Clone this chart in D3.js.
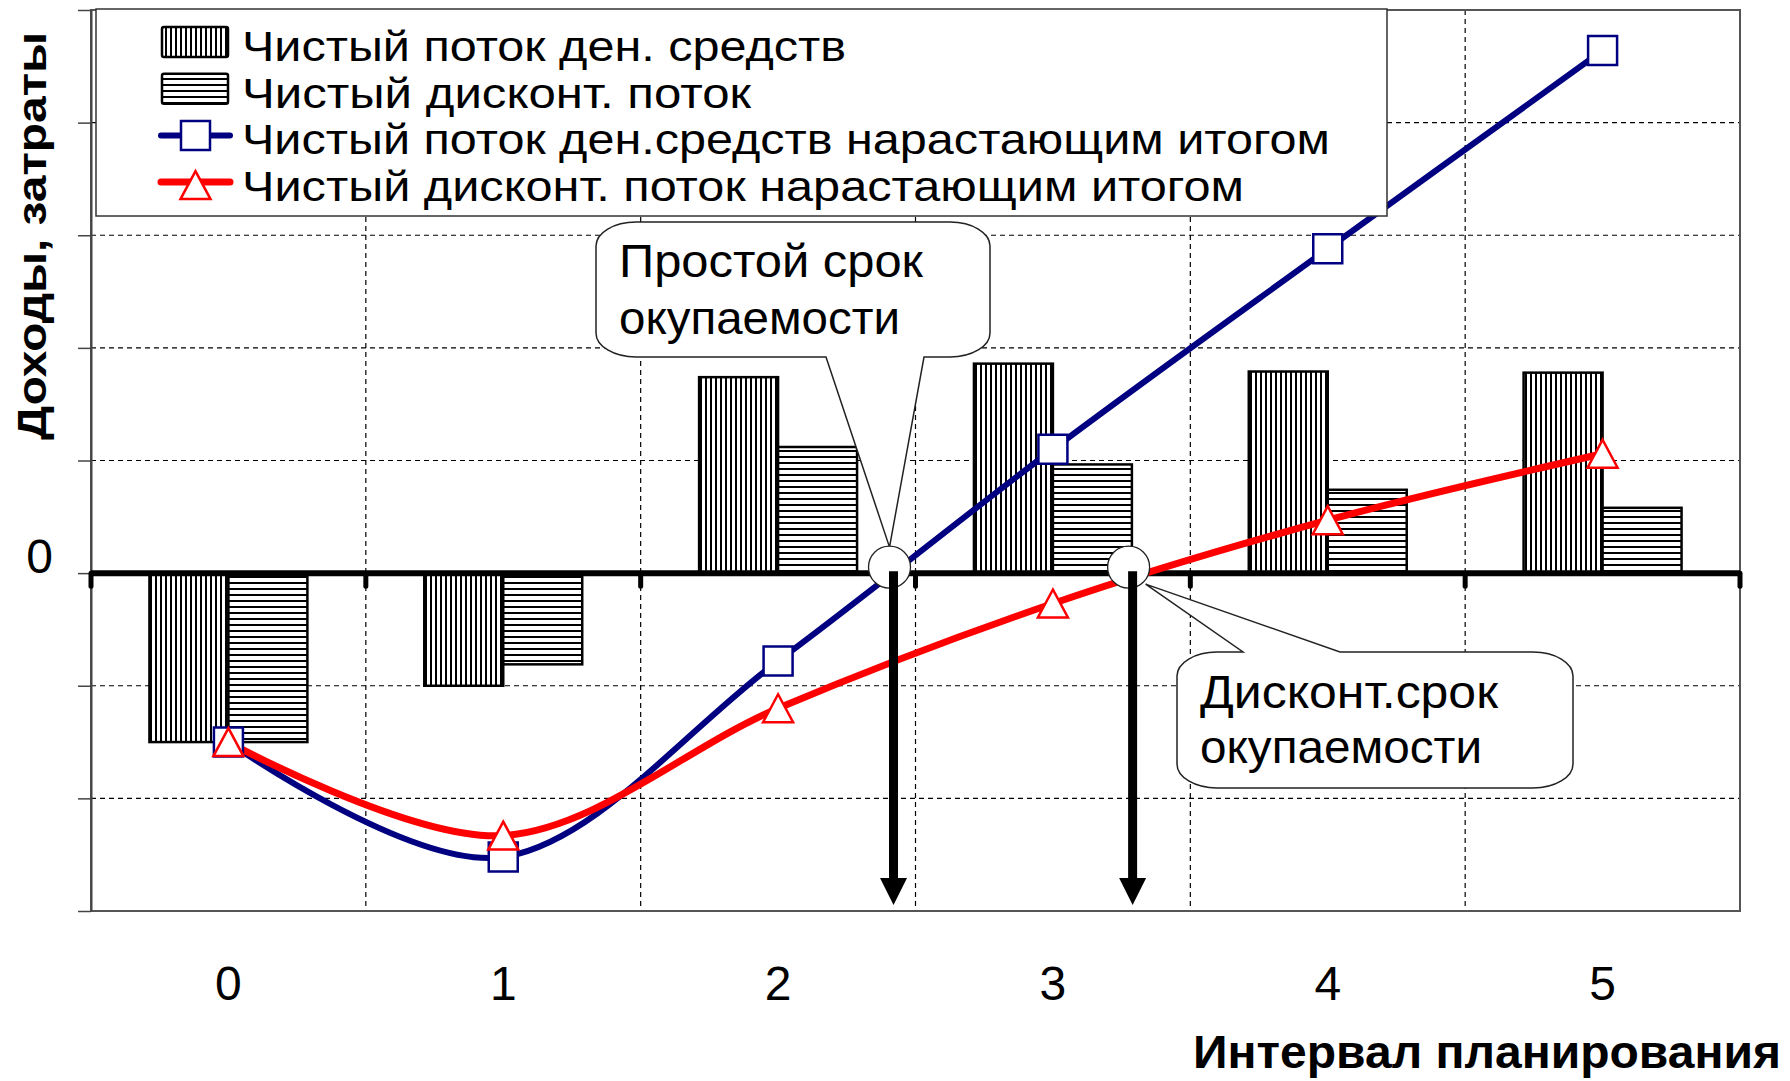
<!DOCTYPE html>
<html>
<head>
<meta charset="utf-8">
<script src="https://cdn.jsdelivr.net/npm/d3@7"></script>
<style>
  body { margin: 0; background: #fff; }
  svg { display: block; }
  text { font-family: "Liberation Sans", Arial, sans-serif; fill: #000; }
</style>
</head>
<body>
<svg id="chart" width="1790" height="1081"></svg>
<script>
// ---- data ----
const periods = ["0", "1", "2", "3", "4", "5"];
const netCashFlow = [-1.5, -1.0, 1.74, 1.86, 1.79, 1.78];
const netDiscFlow = [-1.5, -0.81, 1.12, 0.965, 0.74, 0.58];
const cumCashFlow = [-1.5, -2.52, -0.78, 1.1, 2.88, 4.64];
const cumDiscFlow = [-1.5, -2.33, -1.2, -0.27, 0.47, 1.06];
const yGridValues = [-3, -2, -1, 0, 1, 2, 3, 4, 5];
const paybackSimple = 2.42;      // periods
const paybackDiscounted = 3.29;  // periods
const legendLabels = [
  "Чистый поток ден. средств",
  "Чистый дисконт. поток",
  "Чистый поток ден.средств нарастающим итогом",
  "Чистый дисконт. поток нарастающим итогом"
];
const xTitle = "Интервал планирования";
const yTitle = "Доходы, затраты";
const calloutSimple = ["Простой срок", "окупаемости"];
const calloutDisc = ["Дисконт.срок", "окупаемости"];

// ---- layout ----
const plot = { left: 91, right: 1740, top: 10, bottom: 911 };
const FONT = '"Liberation Sans", Arial, sans-serif';
const BLUE = "#000080", RED = "#ff0000";

const svg = d3.select("#chart");

const xBand = d3.scaleBand().domain(periods).range([plot.left, plot.right]).padding(0);
const xPos = d3.scaleLinear().domain([-0.5, periods.length - 0.5]).range([plot.left, plot.right]);
const y = d3.scaleLinear().domain([-3, 5]).range([plot.bottom, plot.top]);
const xInner = d3.scaleBand().domain(["cash", "disc"]).range([0, xBand.bandwidth()])
  .paddingInner(0).paddingOuter(0.74);

// ---- hatch patterns ----
const defs = svg.append("defs");
const pv = defs.append("pattern").attr("id", "hatchV").attr("patternUnits", "userSpaceOnUse")
  .attr("width", 5).attr("height", 10);
pv.append("rect").attr("width", 5).attr("height", 10).attr("fill", "#fff");
pv.append("rect").attr("x", 0).attr("width", 2).attr("height", 10).attr("fill", "#000")
  .attr("shape-rendering", "crispEdges");
const ph = defs.append("pattern").attr("id", "hatchH").attr("patternUnits", "userSpaceOnUse")
  .attr("width", 10).attr("height", 6);
ph.append("rect").attr("width", 10).attr("height", 6).attr("fill", "#fff");
ph.append("rect").attr("y", 0).attr("width", 10).attr("height", 1.6).attr("fill", "#000")
  .attr("shape-rendering", "crispEdges");

// ---- plot background + grid ----
svg.append("rect").attr("x", plot.left).attr("y", plot.top)
  .attr("width", plot.right - plot.left).attr("height", plot.bottom - plot.top).attr("fill", "#fff");

const grid = svg.append("g").attr("stroke", "#000").attr("stroke-width", 1.2)
  .attr("stroke-dasharray", "5,4");
grid.selectAll("line.h").data(yGridValues.filter(v => v !== 0 && v > y.domain()[0] && v < y.domain()[1]))
  .join("line").attr("class", "h")
  .attr("x1", plot.left).attr("x2", plot.right).attr("y1", d => y(d)).attr("y2", d => y(d));
grid.selectAll("line.v").data(periods.slice(1))
  .join("line").attr("class", "v")
  .attr("x1", d => xBand(d)).attr("x2", d => xBand(d)).attr("y1", plot.top).attr("y2", plot.bottom);

// ---- bars ----
const barData = periods.flatMap((p, i) => [
  { p, key: "cash", v: netCashFlow[i] },
  { p, key: "disc", v: netDiscFlow[i] }
]);
svg.append("g").selectAll("rect").data(barData).join("rect")
  .attr("x", d => xBand(d.p) + xInner(d.key))
  .attr("width", xInner.bandwidth())
  .attr("y", d => y(Math.max(0, d.v)))
  .attr("height", d => Math.abs(y(d.v) - y(0)))
  .attr("fill", d => d.key === "cash" ? "url(#hatchV)" : "url(#hatchH)")
  .attr("stroke", "#000").attr("stroke-width", 2.5);

// ---- plot frame ----
svg.append("rect").attr("x", plot.left).attr("y", plot.top)
  .attr("width", plot.right - plot.left).attr("height", plot.bottom - plot.top)
  .attr("fill", "none").attr("stroke", "#555").attr("stroke-width", 2);

// ---- axes ----
const yAxis = svg.append("g").attr("transform", `translate(${plot.left},0)`)
  .call(d3.axisLeft(y).tickValues(yGridValues).tickSize(13).tickSizeOuter(0).tickPadding(25)
    .tickFormat(d => d === 0 ? "0" : ""));
yAxis.select(".domain").attr("stroke", "#444").attr("stroke-width", 2);
yAxis.selectAll(".tick line").attr("stroke", "#444").attr("stroke-width", 1.5);
yAxis.selectAll("text").attr("font-family", FONT).attr("font-size", 48)
  .attr("dy", 0).attr("y", -1).attr("fill", "#000");

const xAxis = svg.append("g").attr("transform", `translate(0,${plot.bottom})`)
  .call(d3.axisBottom(xBand).tickSize(0).tickPadding(55));
xAxis.select(".domain").remove();
xAxis.selectAll("text").attr("font-family", FONT).attr("font-size", 48).attr("fill", "#000");

// zero line with boundary ticks
svg.append("line").attr("x1", plot.left).attr("x2", plot.right)
  .attr("y1", y(0)).attr("y2", y(0)).attr("stroke", "#000").attr("stroke-width", 6);
svg.append("g").selectAll("line").data(d3.range(periods.length + 1)).join("line")
  .attr("x1", i => xPos(i - 0.5)).attr("x2", i => xPos(i - 0.5))
  .attr("y1", y(0)).attr("y2", y(0) + 13)
  .attr("stroke", "#000").attr("stroke-width", 5).attr("stroke-linecap", "round");

// ---- cumulative lines ----
const lineGen = d3.line().x((d, i) => xPos(i)).y(d => y(d)).curve(d3.curveCardinal.tension(0));
svg.append("path").datum(cumCashFlow).attr("d", lineGen)
  .attr("fill", "none").attr("stroke", BLUE).attr("stroke-width", 6).attr("stroke-linejoin", "round");
svg.append("path").datum(cumDiscFlow).attr("d", lineGen)
  .attr("fill", "none").attr("stroke", RED).attr("stroke-width", 7).attr("stroke-linejoin", "round");

const squarePath = "M-14.5,-14.5H14.5V14.5H-14.5Z";
const trianglePath = "M0,-14L15,14H-15Z";
svg.append("g").selectAll("path").data(cumCashFlow).join("path")
  .attr("d", squarePath).attr("transform", (d, i) => `translate(${xPos(i)},${y(d)})`)
  .attr("fill", "#fff").attr("stroke", BLUE).attr("stroke-width", 2.5);
svg.append("g").selectAll("path").data(cumDiscFlow).join("path")
  .attr("d", trianglePath).attr("transform", (d, i) => `translate(${xPos(i)},${y(d)})`)
  .attr("fill", "#fff").attr("stroke", RED).attr("stroke-width", 2.5);

// ---- legend ----
const lg = svg.append("g");
lg.append("rect").attr("x", 96).attr("y", 9).attr("width", 1291).attr("height", 207)
  .attr("fill", "#fff").attr("stroke", "#333").attr("stroke-width", 1.5);
const legendTextWidth = [604, 509, 1088, 1002];
const rowBase = i => 61 + i * 46.7;
legendLabels.forEach((label, i) => {
  const cy = rowBase(i) - 19;
  if (i < 2) {
    lg.append("rect").attr("x", 162).attr("y", cy - 15).attr("width", 66).attr("height", 30)
      .attr("rx", 2)
      .attr("fill", i === 0 ? "url(#hatchV)" : "url(#hatchH)").attr("stroke", "#000").attr("stroke-width", 2.5);
  } else {
    const col = i === 2 ? BLUE : RED;
    lg.append("line").attr("x1", 161).attr("x2", 230).attr("y1", cy).attr("y2", cy)
      .attr("stroke", col).attr("stroke-width", i === 2 ? 6 : 7).attr("stroke-linecap", "round");
    lg.append("path").attr("d", i === 2 ? squarePath : trianglePath)
      .attr("transform", `translate(195.5,${i === 2 ? cy : cy + 3})`)
      .attr("fill", "#fff").attr("stroke", col).attr("stroke-width", 2.5);
  }
  lg.append("text").attr("x", 242).attr("y", rowBase(i)).attr("font-size", 43)
    .attr("textLength", legendTextWidth[i]).attr("lengthAdjust", "spacingAndGlyphs").text(label);
});

// ---- callouts ----
function calloutPath(b, rx, ry, tail) {
  const { x0, y0, x1, y1 } = b;
  let p = `M${x0 + rx},${y0}`;
  if (tail.side === "top") p += `H${tail.a}L${tail.tip[0]},${tail.tip[1]}L${tail.b},${y0}`;
  p += `H${x1 - rx}A${rx},${ry} 0 0 1 ${x1},${y0 + ry}V${y1 - ry}A${rx},${ry} 0 0 1 ${x1 - rx},${y1}`;
  if (tail.side === "bottom") p += `H${tail.b}L${tail.tip[0]},${tail.tip[1]}L${tail.a},${y1}`;
  p += `H${x0 + rx}A${rx},${ry} 0 0 1 ${x0},${y1 - ry}V${y0 + ry}A${rx},${ry} 0 0 1 ${x0 + rx},${y0}Z`;
  return p;
}
const xSimple = xPos(paybackSimple), xDisc = xPos(paybackDiscounted);
const markY = y(0) - 6;

// circles at the zero crossings
const rings = [xSimple - 4, xDisc - 4];

svg.append("path")
  .attr("d", calloutPath({ x0: 596, y0: 222, x1: 990, y1: 357 }, 40, 24,
    { side: "bottom", a: 826, b: 924, tip: [rings[0], markY - 20] }))
  .attr("fill", "#fff").attr("stroke", "#222").attr("stroke-width", 1.5);
svg.append("path")
  .attr("d", calloutPath({ x0: 1177, y0: 652, x1: 1573, y1: 788 }, 40, 24,
    { side: "top", a: 1243, b: 1340, tip: [rings[1] + 17, markY + 17] }))
  .attr("fill", "#fff").attr("stroke", "#222").attr("stroke-width", 1.5);

const cText = svg.append("g").attr("font-size", 46);
[[calloutSimple, 619, 277, 57, [304, 281]], [calloutDisc, 1200, 708, 55, [298, 282]]].forEach(([lines, x, by, step, widths]) => {
  lines.forEach((t, k) => {
    cText.append("text").attr("x", x).attr("y", by + k * step)
      .attr("textLength", widths[k]).attr("lengthAdjust", "spacingAndGlyphs").text(t);
  });
});

svg.append("g").selectAll("circle").data(rings).join("circle")
  .attr("cx", d => d).attr("cy", markY).attr("r", 21)
  .attr("fill", "#fff").attr("stroke", "#222").attr("stroke-width", 1.3);

// payback arrows
const arrowTip = y(-3) - 6;
function arrowPath(x) {
  const top = y(0) - 2, headTop = arrowTip - 27;
  return `M${x - 4.5},${top}H${x + 4.5}V${headTop}H${x + 13.5}L${x},${arrowTip}L${x - 13.5},${headTop}H${x - 4.5}Z`;
}
svg.append("g").selectAll("path").data([xSimple, xDisc]).join("path")
  .attr("d", arrowPath).attr("fill", "#000");

// ---- titles ----
svg.append("text").attr("x", 1781).attr("y", 1068).attr("text-anchor", "end")
  .attr("font-size", 47).attr("font-weight", "bold")
  .attr("textLength", 588).attr("lengthAdjust", "spacingAndGlyphs").text(xTitle);
svg.append("text").attr("transform", "translate(46,236) rotate(-90)").attr("text-anchor", "middle")
  .attr("font-size", 40).attr("font-weight", "bold")
  .attr("textLength", 408).attr("lengthAdjust", "spacingAndGlyphs").text(yTitle);
</script>
</body>
</html>
